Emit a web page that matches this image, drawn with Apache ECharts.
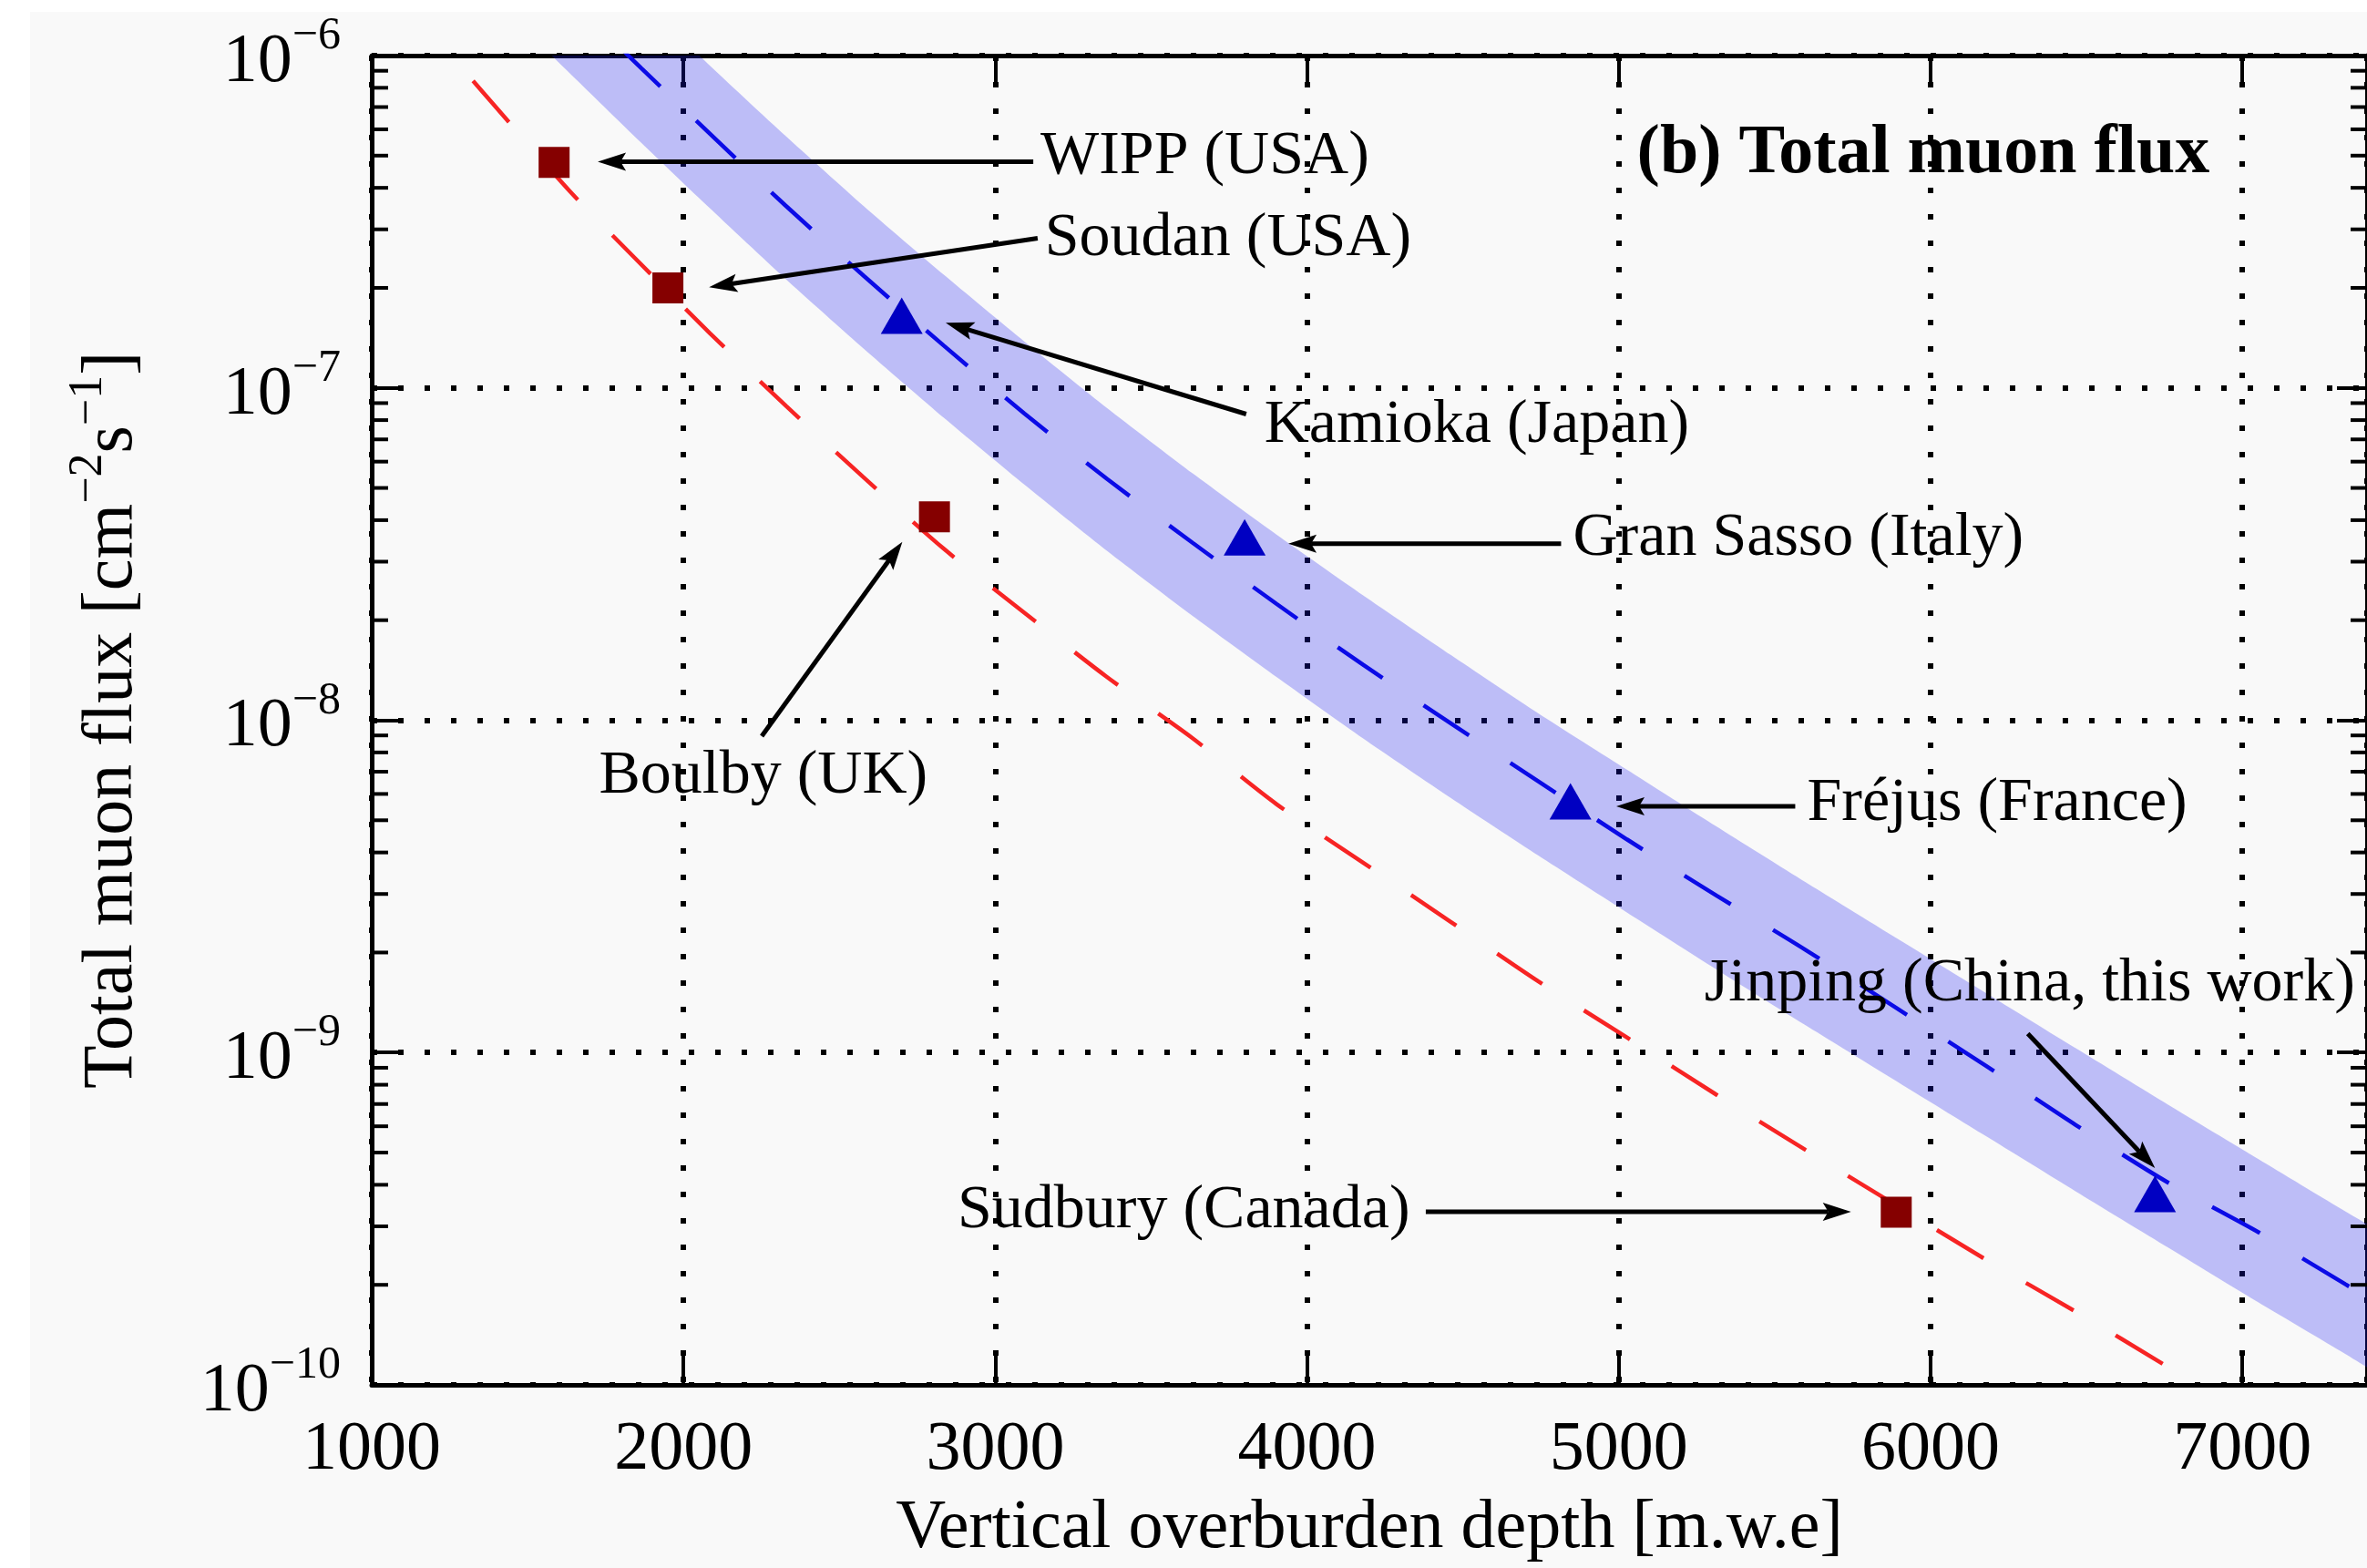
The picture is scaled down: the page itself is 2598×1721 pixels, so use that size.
<!DOCTYPE html>
<html><head><meta charset="utf-8">
<script src="https://cdn.jsdelivr.net/npm/echarts@6/dist/echarts.min.js"></script>
<style>html,body{margin:0;padding:0;background:#f9f9f9}#c{width:2598px;height:1721px}</style>
</head><body><div id="c"></div><script>
// ---------------- data ----------------
const depthMin = 1000, depthMax = 7400;
const fluxMin = 1e-10, fluxMax = 1e-6;
const xTickValues = [1000, 2000, 3000, 4000, 5000, 6000, 7000];
const xTickLabels = ['1000', '2000', '3000', '4000', '5000', '6000', '7000'];
const yTickValues = [1e-10, 1e-9, 1e-8, 1e-7, 1e-6];
const yTickExponents = ['−10', '−9', '−8', '−7', '−6'];

const redSites = ['WIPP (USA)', 'Soudan (USA)', 'Boulby (UK)', 'Sudbury (Canada)'];
const redDepth = [1585, 1950, 2805, 5890];
const redFlux = [4.77e-7, 2.0e-7, 4.09e-8, 3.31e-10];

const blueSites = ['Kamioka (Japan)', 'Gran Sasso (Italy)', 'Fréjus (France)', 'Jinping (China, this work)'];
const blueDepth = [2700, 3800, 4845, 6720];
const blueFlux = [1.65e-7, 3.55e-8, 5.70e-9, 3.75e-10];

const redCurveDepth = [1325, 1386, 1635, 1842, 2085, 2330, 2576, 2835, 3095, 3358, 3630, 3901, 4221, 4462, 4741, 5026, 5312, 5598, 6175, 6466, 6756, 6900];
const redCurveFlux = [8.39e-7, 7.21e-7, 3.91e-7, 2.47e-7, 1.46e-7, 8.81e-8, 5.40e-8, 3.28e-8, 2.10e-8, 1.35e-8, 8.87e-9, 5.60e-9, 3.51e-9, 2.47e-9, 1.64e-9, 1.11e-9, 7.48e-10, 5.10e-10, 2.39e-10, 1.66e-10, 1.14e-10, 9.3e-11];

const blueCurveDepth = [1800, 1864, 2079, 2327, 2579, 2835, 3093, 3359, 3633, 3902, 4179, 4462, 4741, 5026, 5313, 5598, 6178, 6466, 6762, 7052, 7330, 7400];
const blueCurveFlux = [1.05e-6, 9.18e-7, 5.89e-7, 3.54e-7, 2.17e-7, 1.34e-7, 8.38e-8, 5.32e-8, 3.42e-8, 2.24e-8, 1.47e-8, 9.77e-9, 6.56e-9, 4.38e-9, 2.97e-9, 2.04e-9, 9.12e-10, 6.05e-10, 4.06e-10, 2.88e-10, 2.01e-10, 1.84e-10];

const bandDepth = [1400, 1550, 1864, 2079, 2327, 2579, 2835, 3093, 3359, 3633, 3902, 4179, 4462, 4741, 5026, 5313, 5598, 6178, 6466, 6762, 7052, 7330, 7400, 7500];
const bandUpper = [3.95e-6, 2.86e-6, 1.47e-6, 9.44e-7, 5.74e-7, 3.52e-7, 2.19e-7, 1.38e-7, 8.69e-8, 5.53e-8, 3.62e-8, 2.38e-8, 1.57e-8, 1.05e-8, 7.10e-9, 4.79e-9, 3.26e-9, 1.51e-9, 1.03e-9, 6.97e-10, 4.78e-10, 3.33e-10, 3.05e-10, 2.68e-10];
const bandLower = [1.47e-6, 1.06e-6, 5.47e-7, 3.51e-7, 2.13e-7, 1.31e-7, 8.13e-8, 5.12e-8, 3.23e-8, 2.06e-8, 1.35e-8, 8.83e-9, 5.83e-9, 3.92e-9, 2.64e-9, 1.78e-9, 1.21e-9, 5.60e-10, 3.82e-10, 2.59e-10, 1.77e-10, 1.24e-10, 1.13e-10, 9.95e-11];

const annotText = ['WIPP (USA)', 'Soudan (USA)', 'Kamioka (Japan)', 'Gran Sasso (Italy)', 'Boulby (UK)', 'Fréjus (France)', 'Jinping (China, this work)', 'Sudbury (Canada)'];
const annotDepth = [3145, 3159, 3863, 4853, 1729, 5604, 5275, 2879];
const annotFlux = [4.97e-7, 2.81e-7, 7.7e-8, 3.51e-8, 6.76e-9, 5.60e-9, 1.61e-9, 3.33e-10];

const arrowFromDepth = [3122, 3136, 3805, 4815, 2251, 5566, 6312, 4381];
const arrowFromFlux = [4.79e-7, 2.82e-7, 8.34e-8, 3.40e-8, 8.95e-9, 5.51e-9, 1.14e-9, 3.32e-10];
const arrowToDepth = [1725, 2082, 2841, 3940, 2702, 4992, 6720, 5745];
const arrowToFlux = [4.79e-7, 2.01e-7, 1.57e-7, 3.40e-8, 3.44e-8, 5.51e-9, 4.49e-10, 3.32e-10];

const panelTitle = '(b) Total muon flux';
const panelTitleDepth = 5058, panelTitleFlux = 5.05e-7;

const xAxisTitle = 'Vertical overburden depth [m.w.e]';

// ---------------- chart ----------------
const FONT = '"Liberation Serif", "DejaVu Serif", serif';
const chart = echarts.init(document.getElementById('c'), null, {renderer: 'canvas'});

const minorVals = [];
for (let d = -10; d < -6; d++) {
  for (let k = 2; k <= 9; k++) minorVals.push(k * Math.pow(10, d));
}

const axisLineStyle = {color: '#000', width: 5};
const dotted = {color: '#000', width: 6, type: [6, 23]};

const option = {
  backgroundColor: '#f9f9f9',
  animation: false,
  grid: {left: 408, right: -2, top: 61, bottom: 200, containLabel: false},
  graphic: [
    {type: 'rect', shape: {x: 0, y: 0, width: 2598, height: 13}, style: {fill: '#ffffff'}, z: 100, silent: true},
    {type: 'rect', shape: {x: 0, y: 0, width: 33, height: 1721}, style: {fill: '#ffffff'}, z: 100, silent: true}
  ],
  xAxis: [{
    type: 'value', min: depthMin, max: depthMax, interval: 1000, position: 'bottom',
    axisLine: {show: true, lineStyle: axisLineStyle},
    axisTick: {show: true, inside: true, length: 33, lineStyle: {color: '#000', width: 4}},
    axisLabel: {
      margin: 34, fontFamily: FONT, fontSize: 76, color: '#000', showMaxLabel: false,
      formatter: v => { const i = xTickValues.indexOf(v); return i >= 0 ? xTickLabels[i] : ''; }
    },
    splitLine: {show: true, lineStyle: dotted},
    name: xAxisTitle, nameLocation: 'middle', nameGap: 120,
    nameTextStyle: {fontFamily: FONT, fontSize: 76, color: '#000'}
  }, {
    type: 'value', min: depthMin, max: depthMax, interval: 1000, position: 'top',
    axisLine: {show: true, lineStyle: axisLineStyle},
    axisTick: {show: true, inside: true, length: 33, lineStyle: {color: '#000', width: 4}},
    axisLabel: {show: false}, splitLine: {show: false}
  }],
  yAxis: [{
    type: 'log', logBase: 10, min: fluxMin, max: fluxMax, position: 'left', splitNumber: 4,
    axisLine: {show: true, lineStyle: axisLineStyle},
    axisTick: {show: true, inside: true, length: 33, lineStyle: {color: '#000', width: 4}},
    axisLabel: {
      margin: 34, color: '#000',
      formatter: v => {
        let i = yTickValues.findIndex(t => Math.abs(Math.log10(t) - Math.log10(v)) < 1e-6);
        return i >= 0 ? '{b|10}{s|' + yTickExponents[i] + '}' : '';
      },
      rich: {
        b: {fontFamily: FONT, fontSize: 76, lineHeight: 92, verticalAlign: 'bottom', color: '#000'},
        s: {fontFamily: FONT, fontSize: 50, lineHeight: 56, verticalAlign: 'top', color: '#000'}
      }
    },
    splitLine: {show: true, lineStyle: dotted},
    name: '{t|Total muon flux [cm}{s|−2}{t|s}{s|−1}{t|]}',
    nameLocation: 'middle', nameGap: 245, nameRotate: 90,
    nameTextStyle: {
      fontFamily: FONT, fontSize: 76, color: '#000',
      rich: {
        t: {fontFamily: FONT, fontSize: 78, lineHeight: 92, verticalAlign: 'bottom', color: '#000'},
        s: {fontFamily: FONT, fontSize: 52, lineHeight: 56, verticalAlign: 'top', color: '#000'}
      }
    }
  }, {
    type: 'log', logBase: 10, min: fluxMin, max: fluxMax, position: 'right', splitNumber: 4,
    axisLine: {show: true, lineStyle: axisLineStyle},
    axisTick: {show: true, inside: true, length: 33, lineStyle: {color: '#000', width: 4}},
    axisLabel: {show: false}, splitLine: {show: false}
  }],
  series: [
    { // uncertainty band
      type: 'custom', name: 'band', clip: true, z: 1,
      data: [[bandDepth[0], bandLower[0]]],
      renderItem: (params, api) => {
        const pts = [];
        for (let i = 0; i < bandDepth.length; i++) pts.push(api.coord([bandDepth[i], bandUpper[i]]));
        for (let i = bandDepth.length - 1; i >= 0; i--) pts.push(api.coord([bandDepth[i], bandLower[i]]));
        return {type: 'polygon', shape: {points: pts, smooth: 0.2}, style: {fill: 'rgba(20,20,245,0.26)'}};
      }
    },
    { // minor ticks on log axes
      type: 'custom', name: 'minorTicks', clip: false, z: 5, silent: true,
      data: minorVals.map(v => [depthMin, v]),
      renderItem: (params, api) => {
        const v = api.value(1);
        const pl = api.coord([depthMin, v]);
        const pr = api.coord([depthMax, v]);
        return {type: 'group', children: [
          {type: 'line', shape: {x1: pl[0], y1: pl[1], x2: pl[0] + 18, y2: pl[1]}, style: {stroke: '#000', lineWidth: 4}},
          {type: 'line', shape: {x1: pr[0], y1: pr[1], x2: pr[0] - 18, y2: pr[1]}, style: {stroke: '#000', lineWidth: 4}}
        ]};
      }
    },
    {
      type: 'line', name: 'red curve', clip: true, z: 3, symbol: 'none', smooth: 0.25,
      data: redCurveDepth.map((d, i) => [d, redCurveFlux[i]]),
      lineStyle: {color: '#f72424', width: 4.5, type: [60, 54]}
    },
    {
      type: 'line', name: 'blue curve', clip: true, z: 3, symbol: 'none', smooth: 0.25,
      data: blueCurveDepth.map((d, i) => [d, blueCurveFlux[i]]),
      lineStyle: {color: '#0b0be6', width: 4.5, type: [60, 54]}
    },
    {
      type: 'scatter', name: 'red sites', z: 4, symbol: 'rect', symbolSize: 34,
      data: redDepth.map((d, i) => ({name: redSites[i], value: [d, redFlux[i]]})),
      itemStyle: {color: '#850000', opacity: 1}
    },
    {
      type: 'scatter', name: 'blue sites', z: 4, symbol: 'triangle', symbolSize: [46, 40],
      data: blueDepth.map((d, i) => ({name: blueSites[i], value: [d, blueFlux[i]]})),
      itemStyle: {color: '#0000c2', opacity: 1}
    },
    { // arrows
      type: 'custom', name: 'arrows', clip: false, z: 6,
      data: arrowFromDepth.map((d, i) => [d, arrowFromFlux[i], arrowToDepth[i], arrowToFlux[i]]),
      encode: {x: [0, 2], y: [1, 3]},
      renderItem: (params, api) => {
        const p0 = api.coord([api.value(0), api.value(1)]);
        const p1 = api.coord([api.value(2), api.value(3)]);
        const dx = p1[0] - p0[0], dy = p1[1] - p0[1];
        const L = Math.hypot(dx, dy), ux = dx / L, uy = dy / L;
        const px = -uy, py = ux;
        const hl = 31, hw = 10, notch = 6;
        const bx = p1[0] - ux * hl, by = p1[1] - uy * hl;
        const nx = p1[0] - ux * (hl - notch), ny = p1[1] - uy * (hl - notch);
        return {type: 'group', children: [
          {type: 'line', shape: {x1: p0[0], y1: p0[1], x2: nx, y2: ny}, style: {stroke: '#000', lineWidth: 5}},
          {type: 'polygon', shape: {points: [[p1[0], p1[1]], [bx + px * hw, by + py * hw], [nx, ny], [bx - px * hw, by - py * hw]]}, style: {fill: '#000'}}
        ]};
      }
    },
    { // site labels
      type: 'custom', name: 'labels', clip: false, z: 7,
      data: annotDepth.map((d, i) => [d, annotFlux[i]]),
      renderItem: (params, api) => {
        const p = api.coord([api.value(0), api.value(1)]);
        return {type: 'text', x: p[0], y: p[1], style: {
          text: annotText[params.dataIndex], fill: '#000', fontFamily: FONT, fontSize: 68,
          align: 'left', verticalAlign: 'middle', textAlign: 'left', textVerticalAlign: 'middle'
        }};
      }
    },
    { // panel title
      type: 'custom', name: 'title', clip: false, z: 7,
      data: [[panelTitleDepth, panelTitleFlux]],
      renderItem: (params, api) => {
        const p = api.coord([api.value(0), api.value(1)]);
        return {type: 'text', x: p[0], y: p[1], style: {
          text: panelTitle, fill: '#000', fontFamily: FONT, fontSize: 76, fontWeight: 'bold',
          align: 'left', verticalAlign: 'middle', textAlign: 'left', textVerticalAlign: 'middle'
        }};
      }
    }
  ]
};
chart.setOption(option);
</script></body></html>
